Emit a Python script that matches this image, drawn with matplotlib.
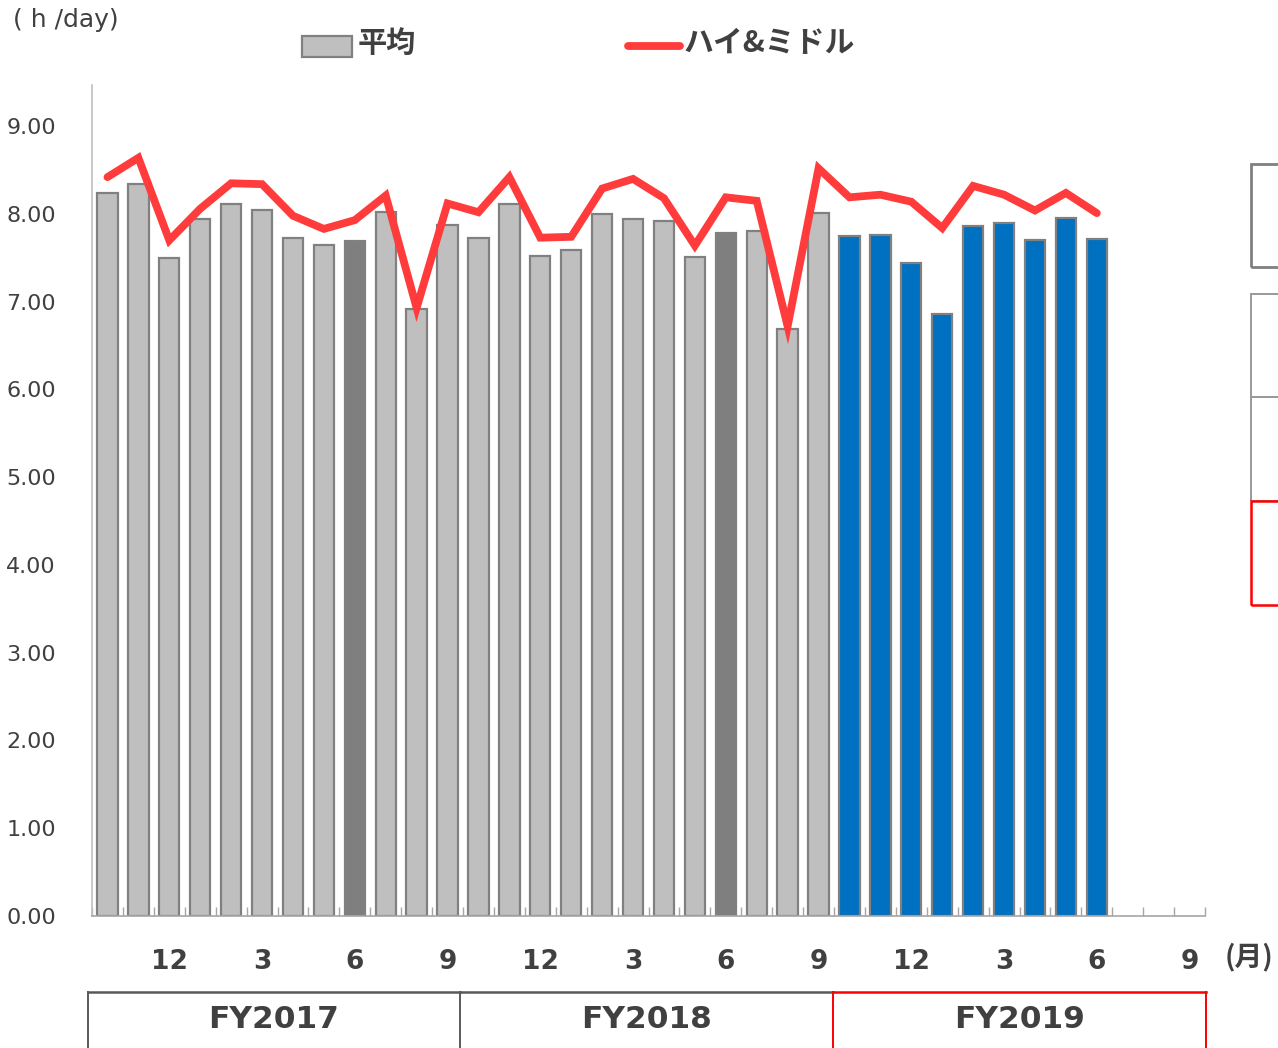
import matplotlib
matplotlib.use("Agg")
import matplotlib.pyplot as plt
from matplotlib.patches import Rectangle
from matplotlib.lines import Line2D

# ---- data ----
avg_values = [8.24, 8.34, 7.50, 7.94, 8.11, 8.05, 7.73, 7.65, 7.69, 8.02, 6.92, 7.87,
              7.73, 8.11, 7.52, 7.59, 8.00, 7.94, 7.92, 7.51, 7.78, 7.81, 6.69, 8.01,
              7.75, 7.76, 7.44, 6.86, 7.86, 7.90, 7.70, 7.96, 7.71]
himid_values = [8.42, 8.64, 7.70, 8.06, 8.35, 8.34, 7.98, 7.83, 7.93, 8.21, 6.93, 8.12,
                8.02, 8.42, 7.73, 7.74, 8.29, 8.40, 8.18, 7.64, 8.19, 8.15, 6.72, 8.52,
                8.19, 8.22, 8.14, 7.84, 8.32, 8.22, 8.04, 8.24, 8.01]
bar_groups = (["light"] * 8 + ["dark"] + ["light"] * 11 + ["dark"] + ["light"] * 3
              + ["blue"] * 9)
n_slots = 36
tick_positions = [2, 5, 8, 11, 14, 17, 20, 23, 26, 29, 32, 35]
tick_labels = ["12", "3", "6", "9", "12", "3", "6", "9", "12", "3", "6", "9"]
fiscal_years = ["FY2017", "FY2018", "FY2019"]
y_ticks = [0, 1, 2, 3, 4, 5, 6, 7, 8, 9]
legend_labels = ["平均", "ハイ&ミドル"]
unit_label = "( h /day)"
month_label = "(月)"

colors = {"light": "#BFBFBF", "dark": "#7F7F7F", "blue": "#0070C0"}
TXT = "#404040"
W, H = 1278, 1048
CJK = ["Noto Sans CJK JP", "DejaVu Sans"]

fig = plt.figure(figsize=(W / 100, H / 100), dpi=100)
def fx(x): return x / W
def fy(y): return 1 - y / H

ax = fig.add_axes([fx(92), fy(916), fx(1205) - fx(92), fy(85) - fy(916)])

xs = list(range(len(avg_values)))
ax.bar(xs, avg_values, width=0.66, color=[colors[g] for g in bar_groups],
       edgecolor="#808080", linewidth=1.6, zorder=2)
ax.plot(list(range(len(himid_values))), himid_values, color="#FF3B3B", linewidth=5.6,
        solid_capstyle="round", solid_joinstyle="miter", zorder=3)

ax.set_xlim(-0.5, n_slots - 0.5)
ax.set_ylim(0, 9.47)
ax.set_yticks(y_ticks)
ax.set_yticklabels([f"{v:.2f}" for v in y_ticks], fontsize=16, color=TXT)
ax.tick_params(axis="y", length=0, pad=26)

ax.set_xticks(tick_positions)
ax.set_xticklabels(tick_labels, fontsize=19, fontweight="bold", color=TXT)
ax.tick_params(axis="x", which="major", length=0, pad=24)
ax.set_xticks([i - 0.5 for i in range(n_slots + 1)], minor=True)
ax.tick_params(axis="x", which="minor", direction="in", length=6.5, width=1,
               color="#A6A6A6")

for s in ["top", "right"]:
    ax.spines[s].set_visible(False)
ax.spines["left"].set_color("#BFBFBF")
ax.spines["left"].set_linewidth(1.2)
ax.spines["bottom"].set_color("#A6A6A6")
ax.spines["bottom"].set_linewidth(1.2)

# unit label and month label
fig.text(fx(13), fy(20), unit_label, fontsize=18, color=TXT, ha="left", va="center")
fig.text(fx(1225), fy(957), month_label, fontsize=20, fontweight="bold",
         color=TXT, ha="left", va="center", family=CJK)

# legend (manual)
fig.patches.append(Rectangle((fx(302), fy(57)), fx(352) - fx(302), fy(36) - fy(57),
                             transform=fig.transFigure, facecolor="#BFBFBF",
                             edgecolor="#808080", linewidth=1.6))
fig.text(fx(358), fy(43), legend_labels[0], fontsize=21, fontweight="bold",
         color=TXT, ha="left", va="center", family=CJK)
fig.lines.append(Line2D([fx(628), fx(680)], [fy(46), fy(46)], transform=fig.transFigure,
                        color="#FF3B3B", linewidth=5.6, solid_capstyle="round"))
fig.text(fx(684), fy(43), legend_labels[1], fontsize=21.5, fontweight="bold",
         color=TXT, ha="left", va="center", family=CJK)

# fiscal year table
bounds = [88, 460, 833, 1206]
top, bot = 992, 1050
for i, fy_lab in enumerate(fiscal_years):
    x0, x1 = bounds[i], bounds[i + 1]
    col = "#FF0000" if i == 2 else "#595959"
    fig.text(fx((x0 + x1) / 2), fy(1020), fy_lab, fontsize=22.5, fontweight="bold",
             color=TXT, ha="center", va="center")
    fig.lines.append(Line2D([fx(x0), fx(x1)], [fy(top), fy(top)], transform=fig.transFigure,
                            color=col, linewidth=1.8))
for x, col in [(88, "#595959"), (460, "#595959"), (833, "#FF0000"), (1206, "#FF0000")]:
    fig.lines.append(Line2D([fx(x), fx(x)], [fy(top), fy(bot)], transform=fig.transFigure,
                            color=col, linewidth=1.4))

# cut-off boxes on the right
for (y0, y1, col, lw) in [(164, 267, "#808080", 2.0), (294, 397, "#999999", 1.4),
                          (397, 501, "#999999", 1.4), (501, 605, "#FF0000", 1.8)]:
    fig.patches.append(Rectangle((fx(1251), fy(y1)), fx(1300) - fx(1251), fy(y0) - fy(y1),
                                 transform=fig.transFigure, facecolor="none",
                                 edgecolor=col, linewidth=lw))

fig.savefig("out.png", dpi=100)
